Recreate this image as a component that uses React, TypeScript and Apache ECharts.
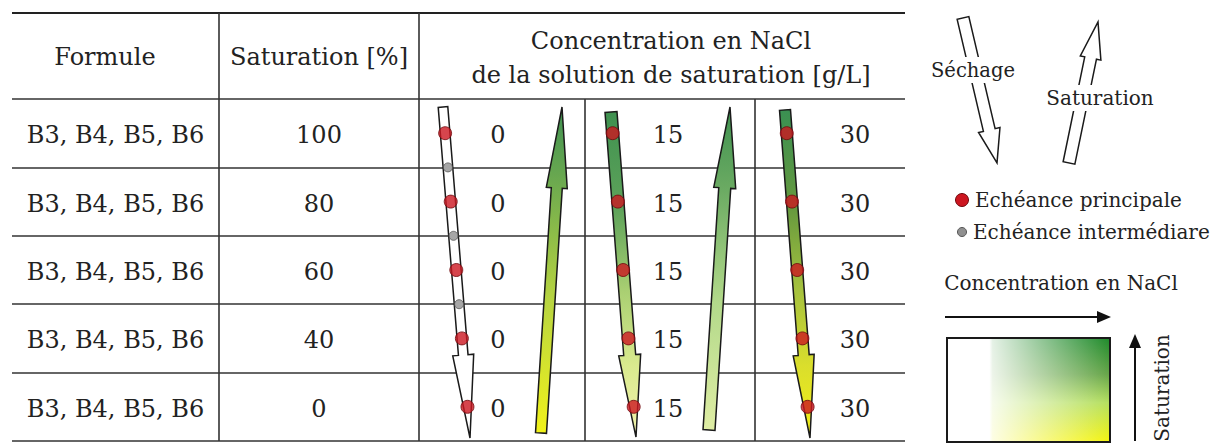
import React, { useEffect, useRef } from "react";
import * as echarts from "echarts";

// ---------- data ----------
const formulas = ["B3, B4, B5, B6", "B3, B4, B5, B6", "B3, B4, B5, B6", "B3, B4, B5, B6", "B3, B4, B5, B6"];
const saturations = [100, 80, 60, 40, 0];
const concentrations = [0, 15, 30];
const mainDeadlines = [100, 80, 60, 40, 0];
const intermediateDeadlines = [90, 70, 50];
const intermediateConcentration = 0;
const headerFormule = "Formule";
const headerSaturation = "Saturation [%]";
const headerConcentration = ["Concentration en NaCl", "de la solution de saturation [g/L]"];
const legendDrying = "Séchage";
const legendSaturation = "Saturation";
const legendMain = "Echéance principale";
const legendIntermediate = "Echéance intermédiare";
const legendConcentration = "Concentration en NaCl";

// ---------- layout ----------
const GRID = { left: 12, top: 99, width: 893, height: 342 };
const ROWS = 5;
const colEdges = [0, 207, 407, 573, 743, 893];
const concTextX = [486, 656, 843];
const TEXT = "#222";
const FONT_T = '"DejaVu Serif", serif';

// drying arrows (one per concentration): from/to in axis units (x px offset, y rows)
const dryArrows = [
  { from: [431, 0.117], to: [458, 4.956], base: 3.743, sw: 4.8, hw: 10.5 },
  { from: [599, 0.19], to: [624, 4.942], base: 3.743, sw: 6, hw: 11 },
  { from: [773, 0.16], to: [798, 4.956], base: 3.743, sw: 5.5, hw: 10.5 },
];
const dryFills: any[] = [
  "#ffffff",
  [[0, "#3f9150"], [0.3, "#5ea35a"], [0.55, "#a9cf72"], [0.78, "#d9ea8e"], [1, "#f2f3ac"]],
  [[0, "#3a9052"], [0.3, "#66993e"], [0.55, "#a6c23e"], [0.78, "#dade2c"], [1, "#f3ef16"]],
];
// saturation arrows (between concentrations)
const satArrows = [
  { from: [529, 4.883], to: [550, 0.117], base: 1.301, sw: 5.5, hw: 10.5 },
  { from: [697, 4.839], to: [718, 0.117], base: 1.301, sw: 6, hw: 11 },
];
const satFills = [
  [[0, "#3f9150"], [0.2, "#66a650"], [0.6, "#b9d540"], [1, "#f1f21a"]],
  [[0, "#3f9150"], [0.25, "#6aaa62"], [0.6, "#b2d98a"], [1, "#dfeda4"]],
];

function satToRow(s: number): number {
  for (let i = 0; i < saturations.length - 1; i++) {
    const a = saturations[i], b = saturations[i + 1];
    if (s <= a && s >= b) {
      const t = (a - s) / (a - b);
      return i + 0.5 + t;
    }
  }
  return 0.5;
}

function xOnArrow(a: any, y: number): number {
  const t = (y - a.from[1]) / (a.to[1] - a.from[1]);
  return a.from[0] + (a.to[0] - a.from[0]) * t;
}

function arrowPts(p0: number[], p1: number[], t: number, sw: number, hw: number) {
  const dx = p1[0] - p0[0], dy = p1[1] - p0[1];
  const L = Math.hypot(dx, dy);
  const nx = -dy / L, ny = dx / L;
  const pb = [p0[0] + dx * t, p0[1] + dy * t];
  return [
    [p0[0] + nx * sw, p0[1] + ny * sw],
    [pb[0] + nx * sw, pb[1] + ny * sw],
    [pb[0] + nx * hw, pb[1] + ny * hw],
    [p1[0], p1[1]],
    [pb[0] - nx * hw, pb[1] - ny * hw],
    [pb[0] - nx * sw, pb[1] - ny * sw],
    [p0[0] - nx * sw, p0[1] - ny * sw],
  ];
}

function grad(stops: any) {
  if (typeof stops === "string") return stops;
  return new echarts.graphic.LinearGradient(0, 0, 0, 1, stops.map((s: any) => ({ offset: s[0], color: s[1] })));
}

function arrowItem(api: any, a: any, fill: any) {
  const p0 = api.coord(a.from);
  const p1 = api.coord(a.to);
  const t = (a.base - a.from[1]) / (a.to[1] - a.from[1]);
  return {
    type: "polygon",
    shape: { points: arrowPts(p0, p1, t, a.sw, a.hw) },
    style: { fill: grad(fill), stroke: "#1a1a1a", lineWidth: 1.5 },
  };
}

function txt(text: string, x: number, y: number, size: number, align = "center", extra: any = {}) {
  return {
    type: "text",
    x,
    y,
    ...extra,
    style: {
      text,
      fill: TEXT,
      font: `${size}px ${FONT_T}`,
      fontSize: size,
      fontFamily: "DejaVu Serif",
      textAlign: align,
      align,
      textVerticalAlign: "middle",
      verticalAlign: "middle",
      ...(extra.style || {}),
    },
  };
}

export default function App() {
  const ref = useRef<HTMLDivElement>(null);
  useEffect(() => {
    if (!ref.current) return;
    const chart = echarts.init(ref.current, null, { renderer: "svg" });
    const xPx = (v: number) => GRID.left + v;
    const topLineY = 13;

    const mainPts: number[][] = [];
    concentrations.forEach((c, ci) => {
      mainDeadlines.forEach((s) => {
        const y = satToRow(s);
        mainPts.push([xOnArrow(dryArrows[ci], y), y]);
      });
    });
    const ci0 = concentrations.indexOf(intermediateConcentration);
    const interPts = intermediateDeadlines.map((s) => {
      const y = satToRow(s);
      return [xOnArrow(dryArrows[ci0], y), y];
    });

    // legend geometry (px)
    const sechPts = arrowPts([963, 18], [997, 163], (130 - 18) / (163 - 18), 6, 11);
    const satLegPts = arrowPts([1069, 163], [1098, 22], (163 - 58) / (163 - 22), 6, 10.5);
    const box = { x: 947, y: 338, w: 163, h: 104 };

    const option: any = {
      animation: false,
      backgroundColor: "#ffffff",
      grid: { left: GRID.left, top: GRID.top, width: GRID.width, height: GRID.height, containLabel: false },
      xAxis: { type: "value", min: 0, max: colEdges[colEdges.length - 1], show: false, splitLine: { show: false } },
      yAxis: {
        type: "value",
        min: 0,
        max: ROWS,
        interval: 1,
        inverse: true,
        axisLine: { show: false },
        axisTick: { show: false },
        axisLabel: { show: false },
        splitLine: { show: true, lineStyle: { color: "#333", width: 1.6 } },
      },
      series: [
        {
          type: "custom",
          name: "columns",
          silent: true,
          data: colEdges.slice(1, colEdges.length - 1).map((e, i) => [e, i]),
          renderItem: (params: any, api: any) => {
            const e = api.value(0);
            const i = api.value(1);
            const p0 = api.coord([e, 0]);
            const p1 = api.coord([e, ROWS]);
            const y0 = i < 2 ? topLineY : p0[1];
            return { type: "line", shape: { x1: p0[0], y1: y0, x2: p1[0], y2: p1[1] }, style: { stroke: "#333", lineWidth: 1.6 } };
          },
          z: 1,
        },
        {
          type: "custom",
          name: "cells",
          silent: true,
          data: formulas.map((f, i) => [i, saturations[i]]),
          renderItem: (params: any, api: any) => {
            const i = params.dataIndex;
            const y = api.coord([0, satToRow(saturations[i])])[1] + 2;
            const children: any[] = [];
            children.push(txt(formulas[i], xPx((colEdges[0] + colEdges[1]) / 2), y, 24));
            children.push(txt(String(saturations[i]), xPx((colEdges[1] + colEdges[2]) / 2), y, 24));
            concentrations.forEach((c, ci) => {
              children.push(txt(String(c), xPx(concTextX[ci]), y, 24));
            });
            return { type: "group", children };
          },
          z: 2,
        },
        {
          type: "custom",
          name: "Séchage",
          silent: true,
          data: concentrations.map((c, i) => [i, c]),
          renderItem: (params: any, api: any) => arrowItem(api, dryArrows[params.dataIndex], dryFills[params.dataIndex]),
          z: 3,
        },
        {
          type: "custom",
          name: "Saturation",
          silent: true,
          data: satArrows.map((a, i) => [i, i]),
          renderItem: (params: any, api: any) => arrowItem(api, satArrows[params.dataIndex], satFills[params.dataIndex]),
          z: 3,
        },
        {
          type: "scatter",
          name: legendIntermediate,
          data: interPts,
          symbol: "circle",
          symbolSize: 9,
          itemStyle: { color: "#909090", borderColor: "#555", borderWidth: 1 },
          z: 5,
        },
        {
          type: "scatter",
          name: legendMain,
          data: mainPts,
          symbol: "circle",
          symbolSize: 13,
          itemStyle: { color: "#cc1620", borderColor: "#6e0a0e", borderWidth: 1 },
          z: 6,
        },
      ],
      graphic: [
        { type: "line", shape: { x1: GRID.left, y1: topLineY, x2: GRID.left + GRID.width, y2: topLineY }, style: { stroke: "#222", lineWidth: 2 } },
        txt(headerFormule, 105, 57, 24),
        txt(headerSaturation, xPx((colEdges[1] + colEdges[2]) / 2), 57, 24),
        txt(headerConcentration[0], 671, 41, 24),
        txt(headerConcentration[1], 671, 75, 24),
        // legend arrows
        { type: "polygon", shape: { points: sechPts }, style: { fill: "#fff", stroke: "#1a1a1a", lineWidth: 1.5 } },
        txt(legendDrying, 973, 70, 19.5, "center", { style: { backgroundColor: "#fff", padding: [3, 2] } }),
        { type: "polygon", shape: { points: satLegPts }, style: { fill: "#fff", stroke: "#1a1a1a", lineWidth: 1.5 } },
        txt(legendSaturation, 1100, 98, 20, "center", { style: { backgroundColor: "#fff", padding: [3, 2] } }),
        // dots legend
        { type: "circle", shape: { cx: 962, cy: 200, r: 6.5 }, style: { fill: "#cc1620", stroke: "#6e0a0e", lineWidth: 1 } },
        txt(legendMain, 975, 200, 20, "left"),
        { type: "circle", shape: { cx: 962, cy: 232, r: 4.5 }, style: { fill: "#909090", stroke: "#555", lineWidth: 1 } },
        txt(legendIntermediate, 973, 232, 20, "left"),
        // concentration legend
        txt(legendConcentration, 1061, 283, 20),
        { type: "line", shape: { x1: 945, y1: 317, x2: 1099, y2: 317 }, style: { stroke: "#111", lineWidth: 2 } },
        { type: "polygon", shape: { points: [[1111, 317], [1097, 311], [1097, 323]] }, style: { fill: "#111" } },
        {
          type: "rect",
          shape: { x: box.x, y: box.y, width: box.w, height: box.h },
          style: {
            fill: new echarts.graphic.LinearGradient(0, 0, 0, 1, [
              { offset: 0, color: "#1d8a2a" },
              { offset: 0.35, color: "#66a548" },
              { offset: 0.62, color: "#b4df5e" },
              { offset: 1, color: "#f5f40e" },
            ]),
          },
        },
        {
          type: "rect",
          shape: { x: box.x, y: box.y, width: box.w, height: box.h },
          style: {
            fill: new echarts.graphic.LinearGradient(0, 0, 1, 0, [
              { offset: 0, color: "rgba(255,255,255,1)" },
              { offset: 0.26, color: "rgba(255,255,255,1)" },
              { offset: 0.28, color: "rgba(255,255,255,0.88)" },
              { offset: 1, color: "rgba(255,255,255,0)" },
            ]),
          },
        },
        { type: "rect", shape: { x: box.x, y: box.y, width: box.w, height: box.h }, style: { fill: "none", stroke: "#1a1a1a", lineWidth: 2 } },
        { type: "line", shape: { x1: 1135, y1: 441, x2: 1135, y2: 346 }, style: { stroke: "#111", lineWidth: 2 } },
        { type: "polygon", shape: { points: [[1135, 334], [1129, 348], [1141, 348]] }, style: { fill: "#111" } },
        txt(legendSaturation, 1162, 388, 20, "center", { rotation: Math.PI / 2 }),
      ],
    };
    chart.setOption(option);
    return () => chart.dispose();
  }, []);
  return <div ref={ref} style={{ position: "absolute", left: 0, top: 0, width: 1226, height: 445, background: "#fff" }} />;
}
